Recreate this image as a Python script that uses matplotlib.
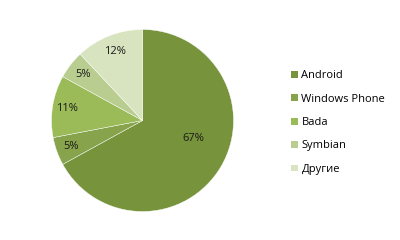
import numpy as np
import matplotlib
matplotlib.use("Agg")
import matplotlib.pyplot as plt
from matplotlib.patches import Patch

labels = ["Android", "Windows Phone", "Bada", "Symbian", "Другие"]
shares = [67, 5, 11, 5, 12]
colors = ["#77933C", "#87A44D", "#9BBB59", "#B8CD8F", "#D8E4BF"]

# where each percentage sits: fraction of radius, extra turn in degrees
label_r = [0.59, 0.84, 0.84, 0.83, 0.81]
label_turn = [10.6, 0, 0, 0, 0]

plt.rcParams['font.family'] = ['Open Sans', 'DejaVu Sans']

fig = plt.figure(figsize=(4, 2.4), dpi=100)
fig.patch.set_facecolor("white")

cx, cy, r = 142.5, 120.5, 91
ax = fig.add_axes([(cx - r) / 400, (240 - cy - r) / 240, 2 * r / 400, 2 * r / 240])
wedges, texts, autotexts = ax.pie(
    shares, colors=colors, startangle=90, counterclock=False,
    autopct=lambda p: f"{p:.0f}%", pctdistance=0.6,
    wedgeprops=dict(edgecolor="white", linewidth=0.3),
    textprops=dict(fontsize=8, color="#1a1a1a"))
for w, t, d, turn in zip(wedges, autotexts, label_r, label_turn):
    mid = np.deg2rad((w.theta1 + w.theta2) / 2 + turn)
    t.set_position((d * np.cos(mid), d * np.sin(mid)))
ax.set_aspect("equal")
ax.set_xlim(-1, 1)
ax.set_ylim(-1, 1)

handles = [Patch(facecolor=c, edgecolor="none") for c in colors]
fig.legend(handles, labels, loc="upper left", bbox_to_anchor=(287 / 400, 1 - 66 / 240),
           frameon=False, fontsize=8, handlelength=0.55, handleheight=0.55,
           handletextpad=0.35, labelspacing=1.11, borderaxespad=0)

fig.savefig("out.png", dpi=100)
